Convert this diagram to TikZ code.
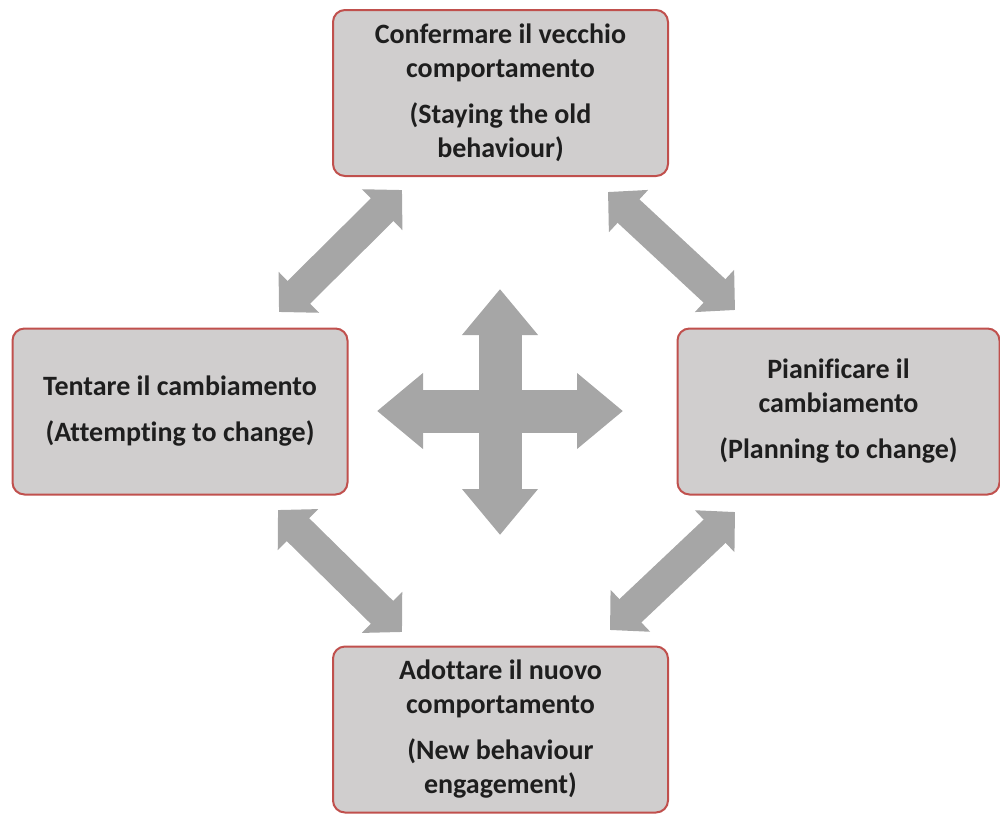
\documentclass[tikz,border=0pt]{standalone}
\usepackage{fontspec}
\setmainfont[Ligatures=NoCommon]{Carlito}
\usetikzlibrary{arrows.meta}
\definecolor{boxfill}{RGB}{208,206,206}
\definecolor{boxline}{RGB}{192,80,77}
\definecolor{arrowgray}{RGB}{166,166,166}
\definecolor{textgray}{RGB}{30,30,30}
\begin{document}
\begin{tikzpicture}[x=0.5pt, y=-0.5pt,
		stage/.style={draw=boxline, line width=1pt, fill=boxfill, rounded corners=6pt, align=center, text=textgray, font=\fontsize{14}{17}\selectfont\bfseries, minimum width=167.5pt, minimum height=83pt, inner sep=0pt},
		fatarrow/.style={draw=arrowgray, line width=16pt, {Triangle[width=28pt, length=14pt]}-{Triangle[width=28pt, length=14pt]}},
		crossarrow/.style={draw=arrowgray, line width=21.5pt, {Triangle[width=36.5pt, length=23pt]}-{Triangle[width=36.5pt, length=23pt]}}]
	\useasboundingbox (0, 0) rectangle (1000, 814);
	\node[stage] (conferma) at (500.5, 93) {Confermare il vecchio\\comportamento\\[6pt](Staying the old\\behaviour)};
	\node[stage] (tentare) at (180, 411.5) {Tentare il cambiamento\\[6pt](Attempting to change)};
	\node[stage, minimum width=161pt] (pianificare) at (838.5, 411.5) {Pianificare il\\cambiamento\\[6pt](Planning to change)};
	\node[stage] (adottare) at (500.5, 729.5) {Adottare il nuovo\\comportamento\\[6pt](New behaviour\\engagement)};
	% ends of the fat arrows
	\coordinate (tl1) at (279, 312);
	\coordinate (tl2) at (402, 190);
	\coordinate (tr1) at (608, 192);
	\coordinate (tr2) at (735, 310);
	\coordinate (bl1) at (278, 510);
	\coordinate (bl2) at (402, 632);
	\coordinate (br1) at (735, 512);
	\coordinate (br2) at (610, 630);
	\draw[fatarrow] (tl1) -- (tl2);
	\draw[fatarrow] (tr1) -- (tr2);
	\draw[fatarrow] (bl1) -- (bl2);
	\draw[fatarrow] (br1) -- (br2);
	% central cross
	\coordinate (cl) at (377, 411);
	\coordinate (cr) at (623, 411);
	\coordinate (ct) at (500, 289);
	\coordinate (cb) at (500, 535);
	\draw[crossarrow] (cl) -- (cr);
	\draw[crossarrow] (ct) -- (cb);
\end{tikzpicture}
\end{document}
